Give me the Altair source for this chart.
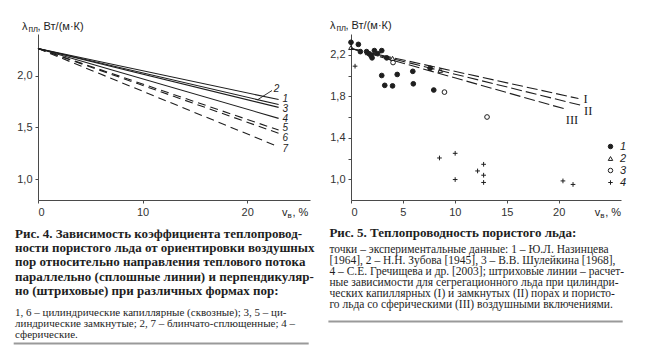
import altair as alt
import pandas as pd

# ---------------- Fig. 4 data ----------------
fig4_labels = ["1", "2", "3", "4", "5", "6", "7"]
fig4_end_y = [1.768, 1.72, 1.693, 1.587, 1.474, 1.443, 1.313]
fig4_dashed = [False, False, False, False, True, True, True]
fig4_start_x = 0
fig4_start_y = 2.26
fig4_end_x = 23
fig4_x_ticks = [0, 10, 20]
fig4_y_ticks = [1.0, 1.5, 2.0]
fig4_leader_x = 21  # where the leader of label "2" touches curve 2

# ---------------- Fig. 5 data ----------------
fig5_labels = ["I", "II", "III"]
fig5_end_x = [21.9, 22.15, 20.8]
fig5_end_y = [1.778, 1.713, 1.672]
fig5_start_x = 0
fig5_start_y = 2.26
fig5_x_ticks = [0, 5, 10, 15, 20]
fig5_y_ticks = [1.0, 1.2, 1.4, 1.6, 1.8, 2.0, 2.2]
fig5_y_labeled = ["1.0", "1.4", "1.8", "2.2"]

src1_x = [0, 0.71, 0.9, 1.5, 1.74, 1.93, 2.03, 2.25, 2.57, 2.96, 3.44, 2.96, 3.25, 4.0, 4.45, 5.95, 6.0, 7.62, 7.97]
src1_y = [2.32, 2.30, 2.23, 2.23, 2.21, 2.19, 2.17, 2.24, 2.21, 2.24, 2.17, 2.0, 1.905, 1.90, 2.01, 2.04, 1.92, 2.07, 1.86]
src2_x = [0, 1.6, 4.0, 8.6]
src2_y = [2.27, 2.22, 2.165, 2.05]
src3_x = [4.05, 9.0, 13.1]
src3_y = [2.125, 1.84, 1.60]
src4_x = [0.39, 8.52, 10.03, 10.03, 12.77, 12.19, 12.77, 12.77, 20.41, 21.38]
src4_y = [2.09, 1.205, 1.25, 0.997, 1.144, 1.08, 1.039, 0.969, 0.984, 0.95]
src_names = ["1", "2", "3", "4"]

# ---------------- Text ----------------
axis_lambda = "λ"
axis_lambda_sub = "пл"
axis_lambda_unit = ", Вт/(м·К)"
axis_v = "v"
axis_v_sub = "в"
axis_v_unit = ", %"

cap4_bold = [
    "Рис. 4. Зависимость коэффициента теплопровод-",
    "ности пористого льда от ориентировки воздушных",
    "пор относительно направления теплового потока",
    "параллельно (сплошные линии) и перпендикуляр-",
    "но (штриховые) при различных формах пор:",
]
cap4_small = [
    "1, 6 – цилиндрические капиллярные (сквозные); 3, 5 – ци-",
    "линдрические замкнутые; 2, 7 – блинчато-сплющенные; 4 –",
    "сферические.",
]
cap5_bold = ["Рис. 5. Теплопроводность пористого льда:"]
cap5_small = [
    "точки – экспериментальные данные: 1 – Ю.Л. Назинцева",
    "[1964], 2 – Н.Н. Зубова [1945], 3 – В.В. Шулейкина [1968],",
    "4 – С.Е. Гречищева и др. [2003]; штриховые линии – расчет-",
    "ные зависимости для сегрегационного льда при цилиндри-",
    "ческих капиллярных (I) и замкнутых (II) порах и пористо-",
    "го льда со сферическими (III) воздушными включениями.",
]

# annotation offsets (pixels) for curve labels
fig4_label_dx = [4, -2, 4, 4, 4, 4, 4]
fig4_label_dy = [-1, -16, 1.5, 0.5, -2.5, 4.5, 2]
fig4_label_align = ["left", "center", "left", "left", "left", "left", "left"]
fig5_label_dx = [5, 3, 5]
fig5_label_dy = [0, 6, 10]
fig5_label_align = ["left", "left", "center"]

INK = "#1e1e1e"
AX = "#4a4a4a"
SANS = "Liberation Sans"
SERIF = "Liberation Serif"
W4, W5, H = 272, 270, 166
GAP = 41

one = pd.DataFrame({"k": [0]})


def txt(s, x, y, size=11, font=SANS, weight="normal", style="normal", lh=None, color=INK):
    kw = dict(align="left", baseline="alphabetic", font=font, fontSize=size,
              fontWeight=weight, fontStyle=style, color=color)
    if lh is not None:
        kw["lineHeight"] = lh
    return alt.Chart(one).mark_text(**kw).encode(
        x=alt.value(x), y=alt.value(y), text=alt.value(s))


def hrule(x1, x2, y):
    return alt.Chart(one).mark_rule(color="#9a9a9a", strokeWidth=2).encode(
        x=alt.value(x1), x2=alt.value(x2), y=alt.value(y))


def decorations(lx, ly, vx, vy, cb, cbx, cby, cblh, cs, csy, cslh, cssize, rx1, rx2, ry):
    return [
        txt(axis_lambda, lx, ly, size=11),
        txt(axis_lambda_sub, lx + 6.5, ly + 2.5, size=8.5),
        txt(axis_lambda_unit, lx + 15.5, ly, size=11),
        txt(axis_v, vx, vy, size=11),
        txt(axis_v_sub, vx + 5.5, vy + 2, size=8),
        txt(axis_v_unit, vx + 10.5, vy, size=11),
        txt(cb, cbx, cby, size=13, font=SERIF, weight="bold", lh=cblh),
        txt(cs, cbx, csy, size=cssize, font=SERIF, lh=cslh),
        hrule(rx1, rx2, ry),
    ]


# ---------------- Fig. 4 chart ----------------
rows = []
for lab, ye, d in zip(fig4_labels, fig4_end_y, fig4_dashed):
    rows.append(dict(curve=lab, x=fig4_start_x, y=fig4_start_y, dashed=d))
    rows.append(dict(curve=lab, x=fig4_end_x, y=ye, dashed=d))
df4 = pd.DataFrame(rows)

X4 = alt.X("x:Q", scale=alt.Scale(domain=[0, 26], nice=False, zero=False),
           axis=alt.Axis(values=fig4_x_ticks, title=None, format="d"))
Y4 = alt.Y("y:Q", scale=alt.Scale(domain=[0.8, 2.4], nice=False, zero=False),
           axis=alt.Axis(values=fig4_y_ticks, title=None,
                         labelExpr="replace(format(datum.value,'.1f'),'.',',')"))

solid4 = alt.Chart(df4).transform_filter("!datum.dashed").mark_line(
    color=INK, strokeWidth=1.1).encode(x=X4, y=Y4, detail="curve:N")
dash4 = alt.Chart(df4).transform_filter("datum.dashed").mark_line(
    color=INK, strokeWidth=1.1, strokeDash=[8, 5]).encode(x=X4, y=Y4, detail="curve:N")

layers4 = [solid4, dash4]
for lab, ye, dx, dy, al in zip(fig4_labels, fig4_end_y, fig4_label_dx, fig4_label_dy, fig4_label_align):
    d = pd.DataFrame({"x": [fig4_end_x], "y": [ye], "t": [lab]})
    layers4.append(alt.Chart(d).mark_text(
        dx=dx, dy=dy, align=al, baseline="middle", font=SANS, fontSize=10,
        fontStyle="italic", color=INK).encode(x=X4, y=Y4, text="t:N"))

# leader from curve 2 to its label
i2 = fig4_labels.index("2")
y_lead = fig4_start_y + (fig4_end_y[i2] - fig4_start_y) * (fig4_leader_x - fig4_start_x) / (fig4_end_x - fig4_start_x)
lead = alt.Chart(pd.DataFrame({"x": [fig4_leader_x], "y": [y_lead]})).mark_rule(
    color=INK, strokeWidth=0.9).encode(x=X4, y=Y4, x2=alt.value(234), y2=alt.value(56.5))
layers4.append(lead)

layers4 += decorations(-16, -4.5, 244, 182, cap4_bold, -23, 204, 14.2,
                       cap4_small, 281.5, 11, 11, -24.3, 270.7, 309.5)

left = alt.layer(*layers4).properties(width=W4, height=H)

# ---------------- Fig. 5 chart ----------------
rows = []
for lab, xe, ye in zip(fig5_labels, fig5_end_x, fig5_end_y):
    rows.append(dict(curve=lab, x=fig5_start_x, y=fig5_start_y))
    rows.append(dict(curve=lab, x=xe, y=ye))
df5 = pd.DataFrame(rows)

pts = []
for name, xs, ys in zip(src_names, [src1_x, src2_x, src3_x, src4_x], [src1_y, src2_y, src3_y, src4_y]):
    for a, b in zip(xs, ys):
        pts.append(dict(x=a, y=b, src=name))
dfp = pd.DataFrame(pts)

X5 = alt.X("x:Q", scale=alt.Scale(domain=[0, 26], nice=False, zero=False),
           axis=alt.Axis(values=fig5_x_ticks, title=None, format="d"))
lbl_list = "[" + ",".join("'%s'" % v for v in fig5_y_labeled) + "]"
Y5 = alt.Y("y:Q", scale=alt.Scale(domain=[0.8, 2.4], nice=False, zero=False),
           axis=alt.Axis(values=fig5_y_ticks, title=None,
                         labelExpr="indexof(%s, format(datum.value,'.1f')) >= 0 ? "
                                   "replace(format(datum.value,'.1f'),'.',',') : ''" % lbl_list))

dash5 = alt.Chart(df5).mark_line(color=INK, strokeWidth=1.1, strokeDash=[11, 4]).encode(
    x=X5, y=Y5, detail="curve:N")

# legend is positioned in the concat's frame (origin = left plot's top-left)
leg = alt.Legend(title=None, orient="none", legendX=W4 + GAP + 254, legendY=107,
                 labelFont=SANS, labelFontStyle="italic", labelFontSize=11,
                 labelColor=INK, rowPadding=0, labelOffset=4, padding=0,
                 symbolSize=20, symbolStrokeWidth=1)
shape_scale = alt.Scale(domain=src_names,
                        range=["circle", "triangle-up", "circle", "M-1,0H1M0,-1V1"])
fill_scale = alt.Scale(domain=src_names,
                       range=[INK, "transparent", "transparent", "transparent"])
stroke_scale = alt.Scale(domain=src_names, range=[INK, INK, INK, INK])
points5 = alt.Chart(dfp).mark_point(filled=False, strokeWidth=1, opacity=1, size=22).encode(
    x=X5, y=Y5,
    shape=alt.Shape("src:N", scale=shape_scale, legend=leg),
    fill=alt.Fill("src:N", scale=fill_scale, legend=leg),
    stroke=alt.Stroke("src:N", scale=stroke_scale, legend=leg),
)

layers5 = [dash5, points5]
for lab, xe, ye, dx, dy, al in zip(fig5_labels, fig5_end_x, fig5_end_y, fig5_label_dx, fig5_label_dy, fig5_label_align):
    d = pd.DataFrame({"x": [xe], "y": [ye], "t": [lab]})
    layers5.append(alt.Chart(d).mark_text(
        dx=dx, dy=dy, align=al, baseline="middle", font=SERIF, fontSize=12.5,
        color=INK).encode(x=X5, y=Y5, text="t:N"))

layers5 += decorations(-21, -5.5, 243.7, 182, cap5_bold, -21.6, 203, 14,
                       cap5_small, 219, 10.9, 11.5, -22.6, 271.7, 287.5)

right = alt.layer(*layers5).properties(width=W5, height=H)

chart = alt.hconcat(left, right, spacing=GAP, bounds="flush").properties(
    padding={"left": 12, "top": 19, "right": 5, "bottom": 5}
).configure_view(stroke=None).configure_axis(
    grid=False, domainColor=AX, tickColor=AX, labelColor="#333", labelFont=SANS,
    labelFontSize=11, tickSize=3, labelPadding=3, domainWidth=1, tickWidth=1
)

chart.save("out.html", embed_options={"renderer": "svg", "actions": False})
